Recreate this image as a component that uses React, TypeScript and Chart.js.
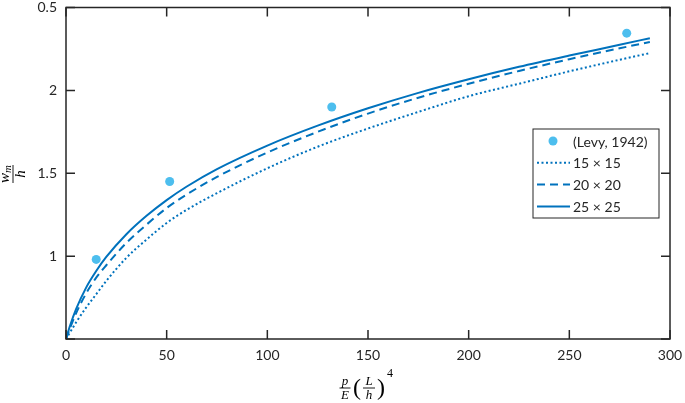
import React, { useEffect, useRef } from "react";
import { Chart, registerables } from "chart.js";
Chart.register(...registerables);

const X_TICKS = [0, 50, 100, 150, 200, 250, 300];
const Y_TICK_VALUES = [0.5, 1, 1.5, 2, 2.5];
const Y_TICK_LABELS = ["", "1", "1.5", "2", "0.5"];

const LEVY_X = [15, 51.5, 132, 278.5];
const LEVY_Y = [0.98, 1.45, 1.9, 2.345];

const CURVE_X = [0, 2, 5, 10, 15, 20, 30, 40, 50, 60, 75, 100, 125, 150, 175, 200, 225, 250, 275, 290];
const MESH15 = [0.5, 0.54, 0.6, 0.69, 0.77, 0.85, 0.99, 1.1, 1.2, 1.28, 1.38, 1.53, 1.66, 1.77, 1.87, 1.965, 2.04, 2.115, 2.185, 2.225];
const MESH20 = [0.5, 0.565, 0.655, 0.775, 0.87, 0.945, 1.08, 1.19, 1.29, 1.372, 1.478, 1.625, 1.75, 1.86, 1.956, 2.04, 2.117, 2.188, 2.254, 2.292];
const MESH25 = [0.5, 0.58, 0.68, 0.81, 0.91, 0.995, 1.132, 1.243, 1.338, 1.42, 1.525, 1.667, 1.787, 1.892, 1.985, 2.067, 2.142, 2.21, 2.275, 2.315];

const LEGEND_LABELS = ["(Levy, 1942)", "15 × 15", "20 × 20", "25 × 25"];

const LINE_BLUE = "#0072BD";
const POINT_BLUE = "#4DBEEE";
const AXIS_COLOR = "#262626";
const TICK_FONT = '14px "Lato"';
const SERIF = '"Liberation Serif"';

function pts(xs: number[], ys: number[]) {
  return xs.map((x, i) => ({ x, y: ys[i] }));
}

function drawFrac(ctx: CanvasRenderingContext2D, cx: number, barY: number, num: string, den: string, w: number, size: number, sub?: string) {
  const f = `italic ${size}px ${SERIF}`;
  const fs = `italic ${Math.round(size * 0.7)}px ${SERIF}`;
  ctx.font = f;
  ctx.textAlign = "center";
  ctx.textBaseline = "alphabetic";
  if (sub) {
    const nw = ctx.measureText(num).width;
    ctx.font = fs;
    const sw = ctx.measureText(sub).width;
    const start = cx - (nw + sw) / 2;
    ctx.font = f;
    ctx.textAlign = "left";
    ctx.fillText(num, start, barY - 4);
    ctx.font = fs;
    ctx.fillText(sub, start + nw, barY - 2);
    ctx.textAlign = "center";
  } else {
    ctx.fillText(num, cx, barY - 3);
  }
  ctx.font = f;
  ctx.fillText(den, cx, barY + size * 0.82);
  ctx.beginPath();
  ctx.lineWidth = 0.9;
  ctx.moveTo(cx - w / 2, barY);
  ctx.lineTo(cx + w / 2, barY);
  ctx.stroke();
}

const framePlugin = {
  id: "framePlugin",
  afterDraw(chart: any) {
    const { ctx, chartArea } = chart;
    const { left, right, top, bottom } = chartArea;
    const xs = chart.scales.x;
    const ys = chart.scales.y;
    ctx.save();
    ctx.strokeStyle = AXIS_COLOR;
    ctx.lineWidth = 1.5;
    ctx.strokeRect(left, top, right - left, bottom - top);
    const tl = 9;
    ctx.beginPath();
    for (const v of X_TICKS) {
      const px = xs.getPixelForValue(v);
      ctx.moveTo(px, bottom);
      ctx.lineTo(px, bottom - tl);
      ctx.moveTo(px, top);
      ctx.lineTo(px, top + tl);
    }
    for (const v of Y_TICK_VALUES) {
      const py = ys.getPixelForValue(v);
      ctx.moveTo(left, py);
      ctx.lineTo(left + tl, py);
      ctx.moveTo(right, py);
      ctx.lineTo(right - tl, py);
    }
    ctx.stroke();

    // legend
    const lx = 533, ly = 129, lw = 126, lh = 89;
    ctx.fillStyle = "#ffffff";
    ctx.fillRect(lx, ly, lw, lh);
    ctx.lineWidth = 1;
    ctx.strokeStyle = AXIS_COLOR;
    ctx.strokeRect(lx, ly, lw, lh);
    const ds = chart.data.datasets;
    ds.forEach((d: any, i: number) => {
      const ry = ly + 12 + i * 21.8;
      if (!d.showLine) {
        ctx.fillStyle = d.pointBackgroundColor;
        ctx.beginPath();
        ctx.arc(lx + 20, ry, 4.5, 0, Math.PI * 2);
        ctx.fill();
      } else {
        ctx.strokeStyle = d.borderColor;
        ctx.lineWidth = d.borderWidth;
        ctx.setLineDash(d.borderDash || []);
        ctx.beginPath();
        ctx.moveTo(lx + 4, ry);
        ctx.lineTo(lx + 37, ry);
        ctx.stroke();
        ctx.setLineDash([]);
      }
      ctx.fillStyle = AXIS_COLOR;
      ctx.font = TICK_FONT;
      ctx.textAlign = "left";
      ctx.textBaseline = "middle";
      ctx.fillText(d.label, lx + 40, ry + 1);
    });

    // x axis title: p/E (L/h)^4
    ctx.fillStyle = "#000";
    ctx.strokeStyle = "#000";
    const barY = 388;
    drawFrac(ctx, 345, barY, "p", "E", 11, 13);
    ctx.font = `24px ${SERIF}`;
    ctx.textAlign = "center";
    ctx.textBaseline = "middle";
    ctx.fillText("(", 357, barY + 1);
    drawFrac(ctx, 369, barY, "L", "h", 12, 13);
    ctx.font = `24px ${SERIF}`;
    ctx.textAlign = "center";
    ctx.textBaseline = "middle";
    ctx.fillText(")", 381, barY + 1);
    ctx.font = `12px ${SERIF}`;
    ctx.textAlign = "left";
    ctx.textBaseline = "alphabetic";
    ctx.fillText("4", 387, barY - 11);

    // y axis title: w_m / h
    ctx.save();
    ctx.translate(13, 174);
    ctx.rotate(-Math.PI / 2);
    drawFrac(ctx, 0, 0, "w", "h", 18, 15, "m");
    ctx.restore();

    ctx.restore();
  },
};

export default function App() {
  const ref = useRef<HTMLCanvasElement | null>(null);
  useEffect(() => {
    document.body.style.margin = "0";
    const canvas = ref.current!;
    const zeroPad = (s: any) => {
      s.paddingTop = 0;
      s.paddingBottom = 0;
      s.paddingLeft = 0;
      s.paddingRight = 0;
    };
    const chart = new Chart(canvas, {
      type: "scatter",
      data: {
        datasets: [
          {
            label: LEGEND_LABELS[0],
            data: pts(LEVY_X, LEVY_Y),
            showLine: false,
            pointRadius: 4.5,
            pointBackgroundColor: POINT_BLUE,
            pointBorderWidth: 0,
            borderColor: POINT_BLUE,
            backgroundColor: POINT_BLUE,
          },
          {
            label: LEGEND_LABELS[1],
            data: pts(CURVE_X, MESH15),
            showLine: true,
            pointRadius: 0,
            borderColor: LINE_BLUE,
            borderWidth: 2,
            borderDash: [2, 2.5],
            cubicInterpolationMode: "monotone",
          },
          {
            label: LEGEND_LABELS[2],
            data: pts(CURVE_X, MESH20),
            showLine: true,
            pointRadius: 0,
            borderColor: LINE_BLUE,
            borderWidth: 2,
            borderDash: [8, 5],
            cubicInterpolationMode: "monotone",
          },
          {
            label: LEGEND_LABELS[3],
            data: pts(CURVE_X, MESH25),
            showLine: true,
            pointRadius: 0,
            borderColor: LINE_BLUE,
            borderWidth: 2,
            cubicInterpolationMode: "monotone",
          },
        ] as any,
      },
      options: {
        responsive: false,
        animation: false,
        layout: { padding: { left: 0, right: 15, top: 7.5, bottom: 0 } },
        plugins: { legend: { display: false }, tooltip: { enabled: false } },
        scales: {
          x: {
            type: "linear",
            min: 0,
            max: 300,
            afterFit: (s: any) => { s.height = 64; zeroPad(s); },
            afterBuildTicks: (s: any) => { s.ticks = X_TICKS.map((v) => ({ value: v })); },
            grid: { display: false, drawTicks: false },
            border: { display: false },
            ticks: { padding: 8, color: AXIS_COLOR, font: { family: "Lato", size: 14 }, maxRotation: 0 },
          },
          y: {
            type: "linear",
            min: 0.5,
            max: 2.5,
            afterFit: (s: any) => { s.width = 66; zeroPad(s); },
            afterBuildTicks: (s: any) => { s.ticks = Y_TICK_VALUES.map((v) => ({ value: v })); },
            grid: { display: false, drawTicks: false },
            border: { display: false },
            ticks: {
              padding: 9,
              color: AXIS_COLOR,
              font: { family: "Lato", size: 14 },
              callback: (v: any) => {
                const i = Y_TICK_VALUES.indexOf(Number(v));
                return i >= 0 ? Y_TICK_LABELS[i] : "";
              },
            },
          },
        },
      },
      plugins: [framePlugin],
    });
    return () => chart.destroy();
  }, []);
  return <canvas ref={ref} width={685} height={403} style={{ display: "block" }} />;
}
